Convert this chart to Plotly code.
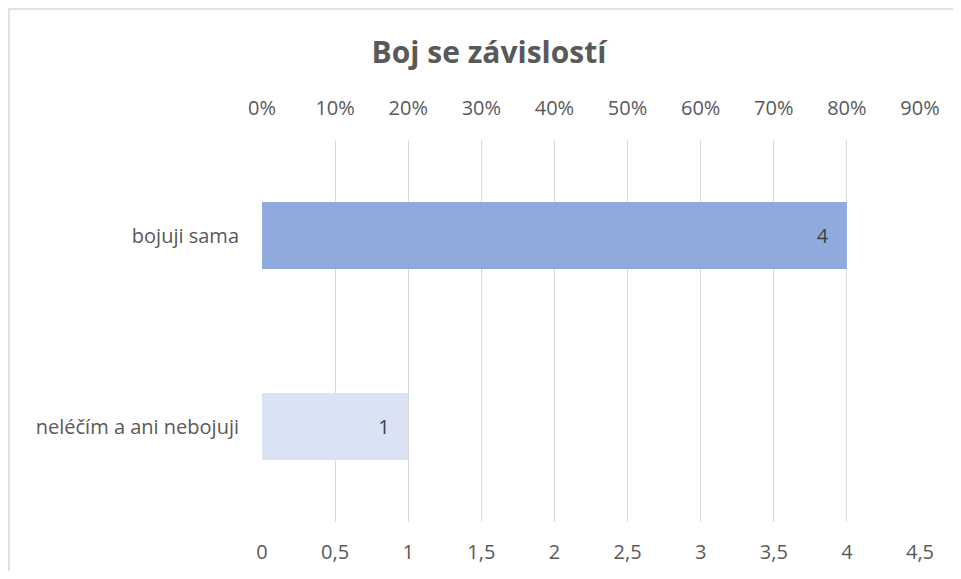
import plotly.graph_objects as go

categories = ["neléčím a ani nebojuji", "bojuji sama"]
values = [1, 4]
colors = ["#DAE3F3", "#8FAADC"]
total = sum(values)
percents = [v / total for v in values]

bottom_ticks = [0, 0.5, 1, 1.5, 2, 2.5, 3, 3.5, 4, 4.5]
bottom_labels = ["0", "0,5", "1", "1,5", "2", "2,5", "3", "3,5", "4", "4,5"]
top_ticks = [0, 0.1, 0.2, 0.3, 0.4, 0.5, 0.6, 0.7, 0.8, 0.9]
top_labels = ["0%", "10%", "20%", "30%", "40%", "50%", "60%", "70%", "80%", "90%"]

FONT = "Open Sans"
GRAY = "#595959"
FS = 20

# page has an 8px body margin on every side; compensate so no scrollbars appear
OFF = 8
W, H = 961 - 2 * OFF, 579 - 2 * OFF
L = 262 - OFF
T = 140 - OFF
R = W - (920 - OFF)
B = H - (522 - OFF)
pw = W - L - R
ph = H - T - B

fig = go.Figure()
fig.add_trace(go.Bar(
    x=values, y=categories, orientation="h",
    marker=dict(color=colors, line=dict(width=0)),
    text=[str(v) + "\u00a0\u00a0\u00a0" for v in values], textposition="inside",
    insidetextanchor="end",
    textfont=dict(family=FONT, size=FS, color="#404040"),
    hoverinfo="skip", showlegend=False,
))
fig.add_trace(go.Scatter(
    x=percents, y=categories, xaxis="x2", mode="markers",
    marker=dict(opacity=0), hoverinfo="skip", showlegend=False,
))


def py(page_y):
    return (522 - page_y) / ph


def px(page_x):
    return (page_x - 262) / pw


fig.update_layout(
    width=W, height=H,
    margin=dict(l=L, r=R, t=T, b=B, autoexpand=False),
    paper_bgcolor="white", plot_bgcolor="white",
    bargap=0.65,
    font=dict(family=FONT, size=FS, color=GRAY),
    title=dict(text="<b>Boj se závislostí</b>", x=(489 - OFF) / W, xref="container",
               y=1 - (52 - OFF) / H, yref="container", xanchor="center", yanchor="middle",
               font=dict(family=FONT, size=30, color=GRAY)),
    xaxis=dict(range=[0, 4.5], tickvals=bottom_ticks, ticktext=bottom_labels,
               showgrid=True, gridcolor="#D9D9D9", gridwidth=1.3, zeroline=False,
               showline=False, ticks="", ticklabelstandoff=16, automargin=False,
               tickfont=dict(family=FONT, size=FS, color=GRAY)),
    xaxis2=dict(range=[0, 0.9], tickvals=top_ticks, ticktext=top_labels,
                overlaying="x", side="top", showgrid=False, zeroline=False,
                showline=False, ticks="", ticklabelstandoff=20, automargin=False,
                tickfont=dict(family=FONT, size=FS, color=GRAY)),
    yaxis=dict(categoryorder="array", categoryarray=categories,
               showgrid=False, zeroline=False, showline=False, ticks="",
               ticklabelstandoff=22, automargin=False,
               tickfont=dict(family=FONT, size=FS, color=GRAY)),
    shapes=[dict(type="rect", xref="paper", yref="paper",
                 x0=px(9), x1=px(990),
                 y0=py(600), y1=py(9),
                 line=dict(color="#D9D9D9", width=1.5), fillcolor="rgba(0,0,0,0)",
                 layer="below")],
)

fig.write_html("out.html")
